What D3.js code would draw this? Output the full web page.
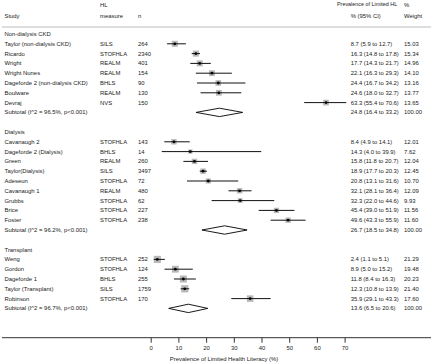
<!DOCTYPE html>
<html><head><meta charset="utf-8">
<script src="https://cdn.jsdelivr.net/npm/d3@7"></script>
<style>
html,body{margin:0;padding:0;background:#fff;}
svg text{font-family:"Liberation Sans",Arial,sans-serif;font-size:5.9px;fill:#222;}
</style></head><body>
<svg id="c" width="432" height="364"></svg>
<script>
const groups = ["Non-dialysis CKD", "Dialysis", "Transplant"];
const studyGroup = [0,0,0,0,0,0,0, 1,1,1,1,1,1,1,1,1, 2,2,2,2,2];
const studies = ["Taylor (non-dialysis CKD)","Ricardo","Wright","Wright Nunes","Dageforde 2 (non-dialysis CKD)","Boulware","Devraj",
  "Cavanaugh 2","Dageforde 2 (Dialysis)","Green","Taylor(Dialysis)","Adeseun","Cavanaugh 1","Grubbs","Brice","Foster",
  "Weng","Gordon","Dageforde 1","Taylor (Transplant)","Robinson"];
const measures = ["SILS","STOFHLA","REALM","REALM","BHLS","REALM","NVS",
  "STOFHLA","BHLS","REALM","SILS","STOFHLA","REALM","STOFHLA","STOFHLA","STOFHLA",
  "STOFHLA","STOFHLA","BHLS","SILS","STOFHLA"];
const ns = ["264","2340","401","154","90","130","150",
  "143","14","260","3497","72","480","62","227","238",
  "252","124","255","1759","170"];
const est = [8.7,16.3,17.7,22.1,24.4,24.6,63.3, 8.4,14.3,15.8,18.9,20.8,32.1,32.3,45.4,49.6, 2.4,8.9,11.8,12.3,35.9];
const lo  = [5.9,14.8,14.3,16.3,16.7,18.0,55.4, 4.9,4.0,11.8,17.7,13.1,28.1,22.0,39.0,43.3, 1.1,5.0,8.4,10.8,29.1];
const hi  = [12.7,17.8,21.7,29.3,34.2,32.7,70.6, 14.1,39.9,20.7,20.3,31.6,36.4,44.6,51.9,55.9, 5.1,15.2,16.3,13.9,43.3];
const weights = ["15.03","15.34","14.96","14.10","13.16","13.77","13.65",
  "12.01","7.62","12.04","12.45","10.70","12.09","9.93","11.56","11.60",
  "21.29","19.48","20.23","21.40","17.60"];
const subLabels = ["Subtotal (I^2 = 96.5%, p<0.001)","Subtotal (I^2 = 96.2%, p<0.001)","Subtotal (I^2 = 96.7%, p<0.001)"];
const subEst = [24.8, 26.7, 13.6];
const subLo = [16.4, 18.5, 6.5];
const subHi = [33.2, 34.8, 20.6];
const ticks = [0,10,20,30,40,50,60,70];
const xTitle = "Prevalence of Limited Health Literacy (%)";

const fmt = d3.format(".1f");
const svg = d3.select("#c");
const x = d3.scaleLinear().domain([0,70]).range([150.7,344.6]);
const rowY = i => 34 + i*9.8;

const rows = [];
groups.forEach((g,gi) => {
  rows.push({type:"group", label:g});
  studies.forEach((s,i) => { if (studyGroup[i]===gi) rows.push({type:"study", i}); });
  rows.push({type:"sub", gi});
  rows.push({type:"blank"});
});

const colStudy = 4.5, colMeas = 100, colN = 138, colCI = 350.7, colW = 404;

const hdr = svg.append("g");
hdr.append("text").attr("x",colStudy).attr("y",15.5).attr("dy","0.35em").text("Study");
hdr.append("text").attr("x",colMeas).attr("y",4.5).attr("dy","0.35em").text("HL");
hdr.append("text").attr("x",colMeas).attr("y",15.5).attr("dy","0.35em").text("measure");
hdr.append("text").attr("x",colN).attr("y",15.5).attr("dy","0.35em").text("n");
hdr.append("text").attr("x",337).attr("y",4.5).attr("dy","0.35em").style("font-size","5.4px").text("Prevalence of Limited HL");
hdr.append("text").attr("x",colCI).attr("y",15.5).attr("dy","0.35em").text("% (95% CI)");
hdr.append("text").attr("x",colW).attr("y",4.5).attr("dy","0.35em").text("%");
hdr.append("text").attr("x",colW).attr("y",15.5).attr("dy","0.35em").text("Weight");
svg.append("line").attr("x1",2).attr("x2",431).attr("y1",27).attr("y2",27)
  .attr("stroke","#bbb").attr("stroke-width",1);

const g = svg.append("g");
rows.forEach((r,ri) => {
  const y = rowY(ri);
  if (r.type==="group") {
    g.append("text").attr("x",colStudy).attr("y",y).attr("dy","0.35em").text(r.label);
  } else if (r.type==="study") {
    const i = r.i;
    g.append("text").attr("x",colStudy).attr("y",y).attr("dy","0.35em").text(studies[i]);
    g.append("text").attr("x",colMeas).attr("y",y).attr("dy","0.35em").text(measures[i]);
    g.append("text").attr("x",colN).attr("y",y).attr("dy","0.35em").text(ns[i]);
    g.append("text").attr("x",colCI).attr("y",y).attr("dy","0.35em")
      .text(`${fmt(est[i])} (${fmt(lo[i])} to ${fmt(hi[i])})`);
    g.append("text").attr("x",colW).attr("y",y).attr("dy","0.35em").text(weights[i]);
    const s = Math.sqrt(+weights[i]) * 1.55;
    g.append("rect").attr("x",x(est[i])-s/2).attr("y",y-s/2).attr("width",s).attr("height",s)
      .attr("fill","#b8b8b8");
    g.append("line").attr("x1",x(lo[i])).attr("x2",x(hi[i])).attr("y1",y).attr("y2",y)
      .attr("stroke","#111").attr("stroke-width",1);
    g.append("circle").attr("cx",x(est[i])).attr("cy",y).attr("r",1.4).attr("fill","#000");
  } else if (r.type==="sub") {
    const k = r.gi;
    g.append("text").attr("x",colStudy).attr("y",y).attr("dy","0.35em").text(subLabels[k]);
    g.append("text").attr("x",colCI).attr("y",y).attr("dy","0.35em")
      .text(`${fmt(subEst[k])} (${fmt(subLo[k])} to ${fmt(subHi[k])})`);
    g.append("text").attr("x",colW).attr("y",y).attr("dy","0.35em").text("100.00");
    const h = 4.2;
    g.append("path").attr("d",`M${x(subLo[k])},${y} L${x(subEst[k])},${y-h} L${x(subHi[k])},${y} L${x(subEst[k])},${y+h} Z`)
      .attr("fill","#fff").attr("stroke","#000").attr("stroke-width",0.9);
  }
});

const axY = 337.7;
svg.append("line").attr("x1",2).attr("x2",431).attr("y1",axY).attr("y2",axY)
  .attr("stroke","#333").attr("stroke-width",1);
const ax = svg.append("g").attr("transform",`translate(0,${axY})`)
  .call(d3.axisBottom(x).tickValues(ticks).tickSize(5).tickPadding(3));
ax.select(".domain").remove();
ax.selectAll(".tick line").attr("stroke","#333");
ax.selectAll(".tick text").attr("font-size",null).attr("font-family",null).style("fill","#222");
svg.append("text").attr("x",224).attr("y",359).attr("dy","0.35em").attr("text-anchor","middle").text(xTitle);
</script>
</body></html>
